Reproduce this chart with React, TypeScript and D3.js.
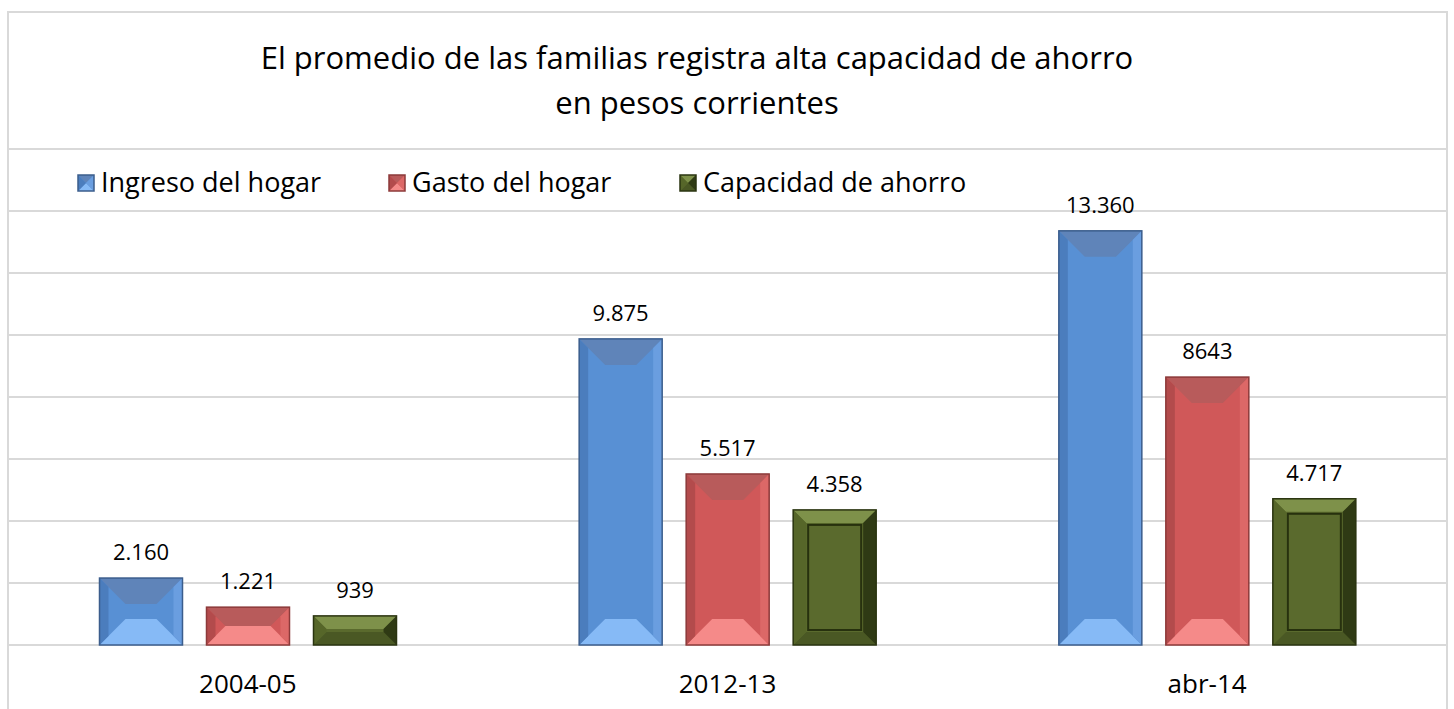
import React from 'react';
import * as d3 from 'd3';

const categories = ['2004-05', '2012-13', 'abr-14'];
const seriesNames = ['Ingreso del hogar', 'Gasto del hogar', 'Capacidad de ahorro'];
const ingreso = [2160, 9875, 13360];
const gasto = [1221, 5517, 8643];
const ahorro = [939, 4358, 4717];
const valueLabels = [
  ['2.160', '9.875', '13.360'],
  ['1.221', '5.517', '8643'],
  ['939', '4.358', '4.717'],
];
const gridTicks = [0, 2000, 4000, 6000, 8000, 10000, 12000, 14000, 16000];
const titleLines = ['El promedio de las familias registra alta capacidad de ahorro', 'en pesos corrientes'];

// bevel colours per series: main, top, bottom, left, right, edge
const palette = [
  { main: '#5890d4', top: '#5f84b9', bottom: '#86baf6', left: '#4b7dbd', right: '#6a9ee0', edge: '#3b5d8c' },
  { main: '#d05859', top: '#b85b5b', bottom: '#f58a89', left: '#b34b4c', right: '#dc6867', edge: '#8c3a3a' },
  { main: '#5a6a2d', top: '#7e914a', bottom: '#4a5824', left: '#566629', right: '#2f3a14', edge: '#2a3410' },
];

const W = 1454;
const H = 709;
const font = '"Open Sans", "Noto Sans", sans-serif';

const Bar = ({ x, y, w, h, s }) => {
  const c = palette[s];
  const green = s === 2;
  const b = Math.min(green ? 13 : 26, h / 2, w / 2);
  const bs = green ? b : Math.min(9, b);
  const x2 = x + w;
  const y2 = y + h;
  return (
    <g>
      <rect x={x} y={y} width={w} height={h} fill={c.main} />
      <polygon points={`${x},${y} ${x2},${y} ${x2 - b},${y + b} ${x + b},${y + b}`} fill={c.top} />
      <polygon points={`${x},${y2} ${x2},${y2} ${x2 - b},${y2 - b} ${x + b},${y2 - b}`} fill={c.bottom} />
      <polygon points={`${x},${y} ${x + bs},${y + bs} ${x + bs},${y2 - bs} ${x},${y2}`} fill={c.left} />
      <polygon points={`${x2},${y} ${x2 - bs},${y + bs} ${x2 - bs},${y2 - bs} ${x2},${y2}`} fill={c.right} />
      {green && h > 2 * b + 6 && (
        <rect x={x + b + 2} y={y + b + 2} width={w - 2 * b - 4} height={h - 2 * b - 4}
          fill="none" stroke="#27310e" strokeWidth={2} />
      )}
      <rect x={x} y={y} width={w} height={h} fill="none" stroke={c.edge} strokeWidth={1.5} />
    </g>
  );
};

export default function App() {
  const frameL = 8;
  const frameR = 1447;
  const y = d3.scaleLinear().domain([0, 16000]).range([645, 149]);
  const x0 = d3.scaleBand().domain(categories).range([frameL, frameR]).padding(0);
  const x1 = d3.scaleBand().domain(seriesNames).range([91.5, 388.5]).paddingInner(0.2243).paddingOuter(0);
  const values = [ingreso, gasto, ahorro];
  const legendX = [78, 389, 680];

  return (
    <svg width={W} height={H} style={{ position: 'absolute', left: 0, top: 0, background: '#fff' }}>
      <rect x={frameL} y={12} width={frameR - frameL} height={H} fill="#fff" stroke="#d9d9d9" strokeWidth={2} />
      {gridTicks.map(t => (
        <line key={t} x1={frameL} x2={frameR} y1={y(t)} y2={y(t)} stroke="#d9d9d9" strokeWidth={2} />
      ))}
      {titleLines.map((t, i) => (
        <text key={t} x={697} y={69 + i * 45} textAnchor="middle" fontFamily={font} fontSize={31} fill="#000">{t}</text>
      ))}
      {seriesNames.map((n, i) => (
        <g key={n}>
          <Bar x={legendX[i]} y={175} w={16} h={16} s={i} />
          <text x={legendX[i] + 23} y={192} fontFamily={font} fontSize={27} fill="#000">{n}</text>
        </g>
      ))}
      {categories.map((cat, ci) => (
        <g key={cat} transform={`translate(${x0(cat)},0)`}>
          {seriesNames.map((n, si) => {
            const v = values[si][ci];
            const bx = x1(n);
            const bw = x1.bandwidth();
            return (
              <g key={n}>
                <Bar x={bx} y={y(v)} w={bw} h={y(0) - y(v)} s={si} />
                <text x={bx + bw / 2} y={y(v) - 18} textAnchor="middle" fontFamily={font} fontSize={22} fill="#000">
                  {valueLabels[si][ci]}
                </text>
              </g>
            );
          })}
          <text x={x0.bandwidth() / 2} y={693} textAnchor="middle" fontFamily={font} fontSize={26} fill="#000">{cat}</text>
        </g>
      ))}
    </svg>
  );
}
